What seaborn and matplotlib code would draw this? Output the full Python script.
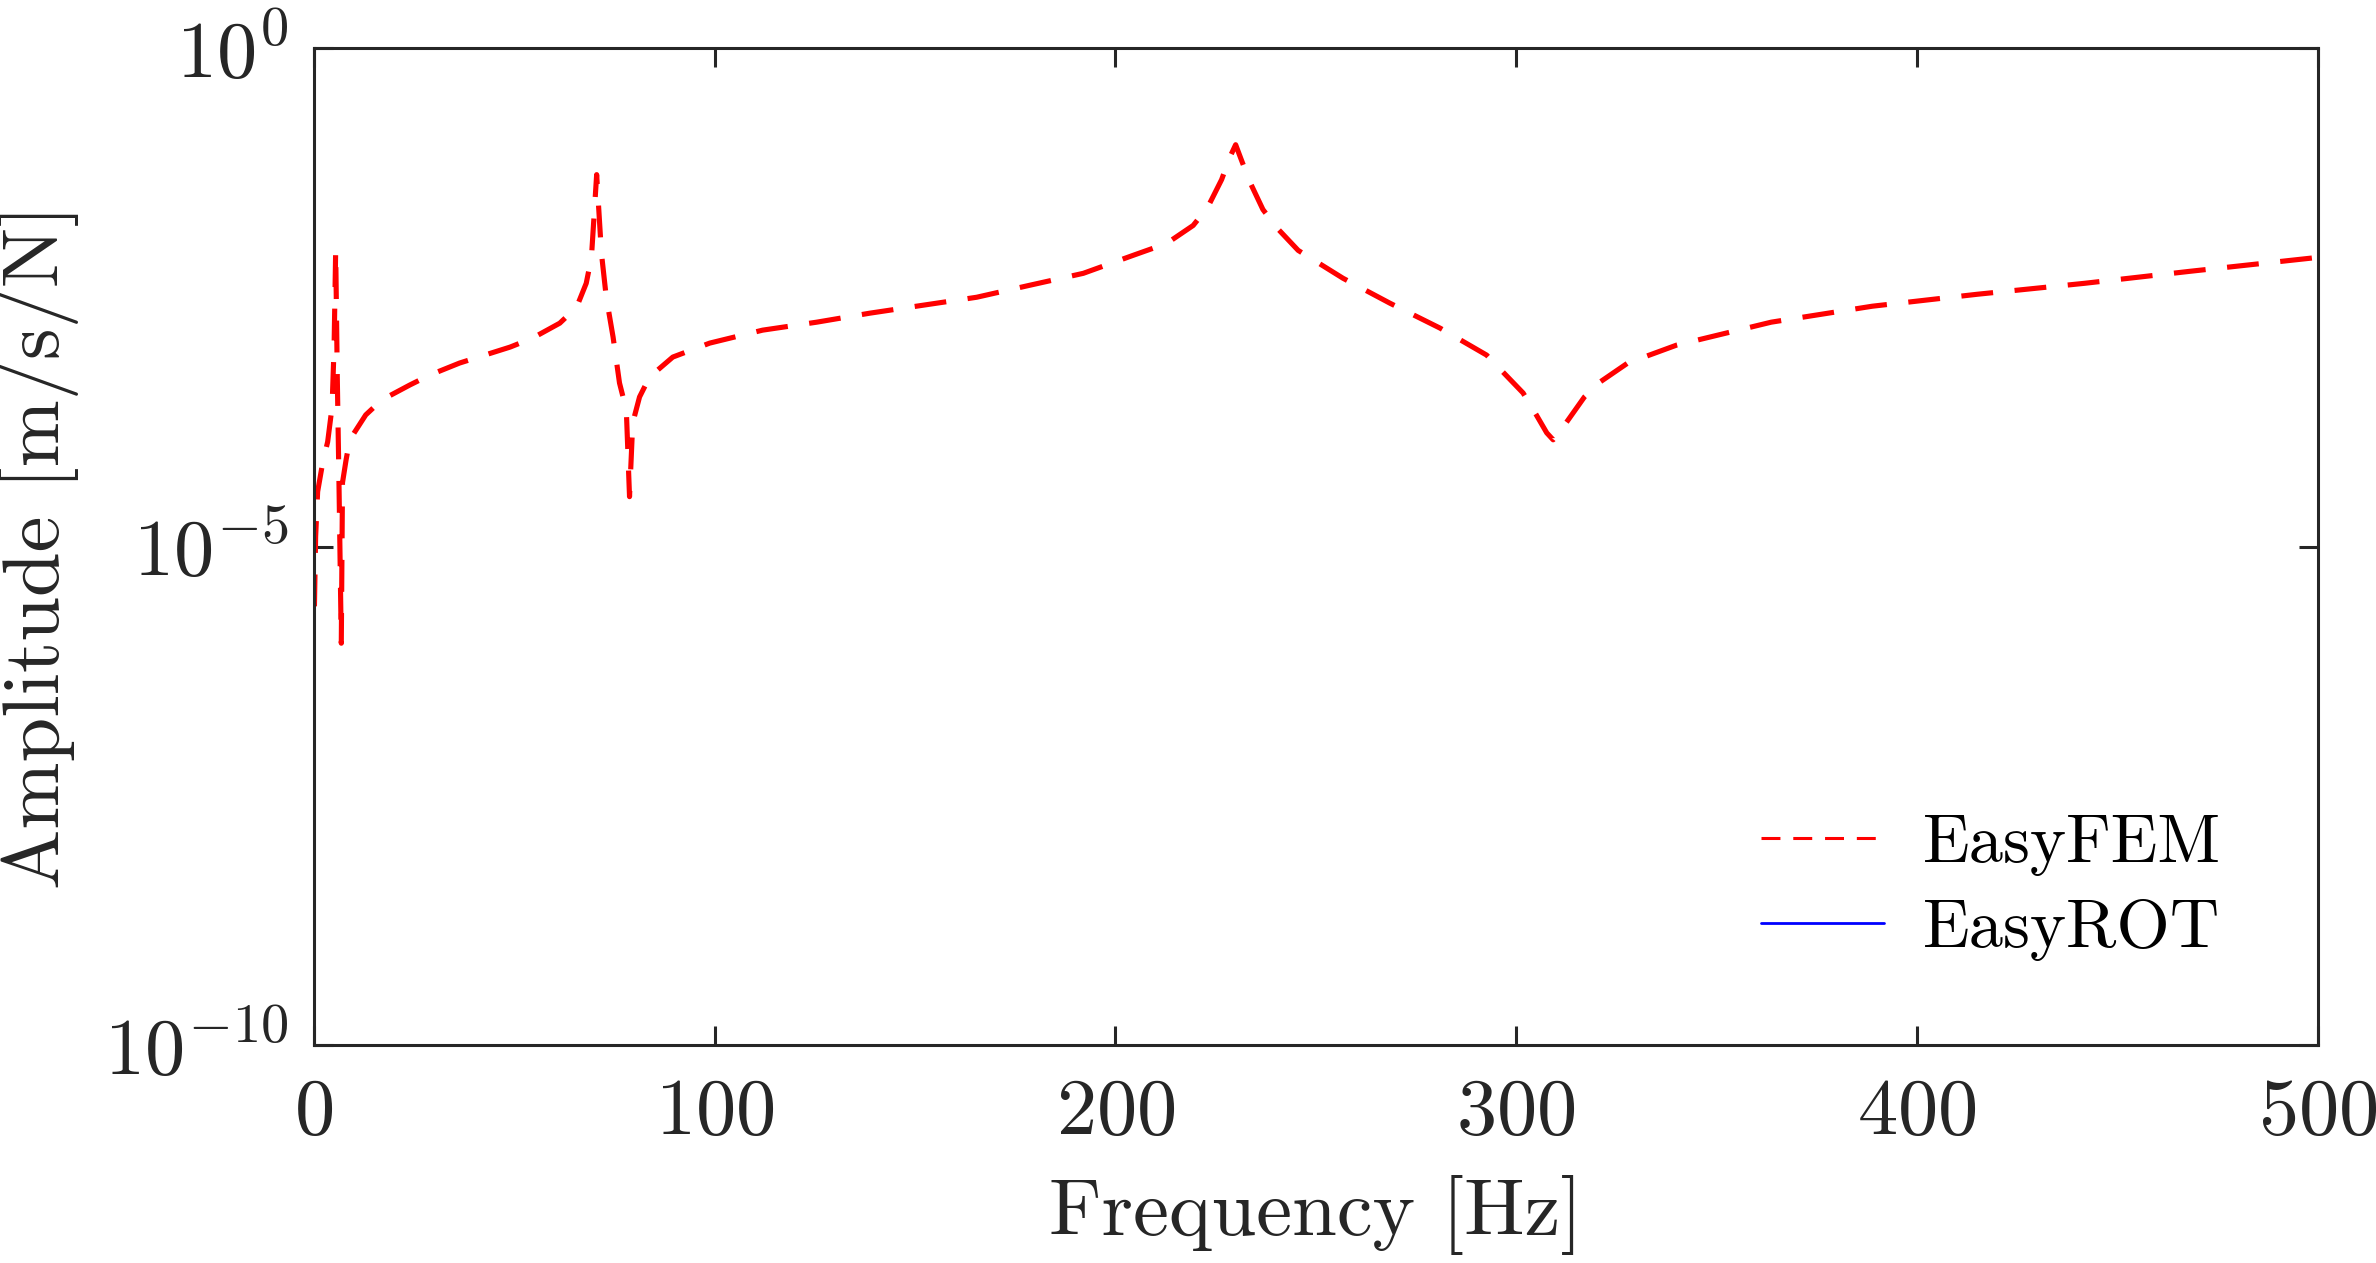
import numpy as np
import pandas as pd
import matplotlib
matplotlib.use("Agg")
import matplotlib.pyplot as plt
import seaborn as sns

# ---- data ----
freq_hz = [0.2, 0.5, 1.0, 2.3, 3.5, 4.6, 5.1, 5.5, 5.9, 6.3, 6.9, 7.2, 8.1, 9.0,
           13.0, 17.0, 24.0, 29.0, 36.4, 49.0, 54.6, 61.4, 65.6, 68.0, 69.3, 70.6,
           71.8, 73.0, 74.7, 76.3, 78.0, 78.8, 79.6, 81.3, 83.8, 89.6, 98.8, 112.0,
           125.5, 138.7, 152.0, 165.4, 178.6, 192.0, 204.4, 212.8, 219.4, 223.0,
           226.5, 228.5, 230.0, 231.4, 233.5, 236.8, 240.2, 245.6, 256.8, 268.5,
           281.0, 292.6, 301.7, 305.0, 307.6, 309.2, 310.8, 312.6, 317.0, 320.9,
           327.8, 340.0, 363.6, 388.8, 415.0, 441.8, 468.0, 500.0]
easyfem_log10 = [-5.6, -4.9, -4.45, -4.15, -3.95, -3.6, -3.0, -2.03, -3.3, -4.3, -5.97,
                 -4.36, -4.13, -3.93, -3.68, -3.53, -3.38, -3.28, -3.16, -3.0, -2.91,
                 -2.76, -2.6, -2.36, -2.1, -1.27, -2.06, -2.5, -2.9, -3.36, -3.63, -4.5,
                 -3.76, -3.5, -3.3, -3.1, -2.96, -2.83, -2.75, -2.66, -2.58, -2.5, -2.38,
                 -2.26, -2.08, -1.96, -1.78, -1.6, -1.32, -1.1, -0.97, -1.12, -1.34,
                 -1.62, -1.8, -2.03, -2.31, -2.56, -2.81, -3.08, -3.46, -3.68, -3.86,
                 -3.93, -3.85, -3.75, -3.5, -3.35, -3.16, -2.98, -2.75, -2.59, -2.47,
                 -2.36, -2.24, -2.10]
easyrot_freq = []   # EasyROT curve is not visible in the reference
easyrot_amp = []

series_labels = ["EasyFEM", "EasyROT"]
x_ticks = [0, 100, 200, 300, 400, 500]
y_ticks = [1e-10, 1e-5, 1e0]

df = pd.DataFrame({"freq": freq_hz, "amp": 10.0 ** np.array(easyfem_log10)})

# ---- style ----
sns.set_theme(style="ticks")
plt.rcParams.update({
    "font.family": "serif",
    "font.serif": ["cmr10"],
    "mathtext.fontset": "cm",
    "axes.formatter.use_mathtext": True,
    "axes.unicode_minus": False,
})

fs = 29
fs_leg = 24.7
dark = "#262626"

fig = plt.figure(figsize=(11.88, 6.315), dpi=200)
ax = fig.add_axes([0.132, 0.1726, 0.8436, 0.7894])

sns.lineplot(data=df, x="freq", y="amp", ax=ax, color="red", linewidth=1.85,
             label=series_labels[0], sort=False, estimator=None)
ax.lines[0].set_dashes((6.2, 4.2))
ax.plot(easyrot_freq, easyrot_amp, color="blue", linewidth=1.0, label=series_labels[1])

ax.set_yscale("log")
ax.set_xlim(0, 500)
ax.set_ylim(1e-10, 1e0)
ax.set_xticks(x_ticks)
ax.set_yticks(y_ticks)
ax.yaxis.set_minor_locator(matplotlib.ticker.NullLocator())

for s in ax.spines.values():
    s.set_visible(True)
    s.set_color(dark)
    s.set_linewidth(1.1)

ax.tick_params(axis="both", which="major", direction="in", length=7,
               width=1.1, color=dark, labelcolor=dark, labelsize=fs,
               top=True, right=True)
ax.tick_params(axis="x", pad=12)
ax.tick_params(axis="y", pad=9)

ax.set_xlabel("Frequency [Hz]", fontsize=fs, color=dark)
ax.set_ylabel("Amplitude [m/s/N]", fontsize=fs, color=dark)
ax.xaxis.set_label_coords(0.5, -0.13)
ax.yaxis.set_label_coords(-0.117, 0.5)

leg = ax.legend(loc="upper left", bbox_to_anchor=(0.722, 0.232), frameon=False,
                fontsize=fs_leg, handlelength=1.79, handletextpad=0.57,
                borderpad=0, borderaxespad=0, labelspacing=0.34)
leg.get_lines()[1].set_linewidth(1.0)
leg.get_lines()[0].set_linewidth(1.1)
for t in leg.get_texts():
    t.set_color("black")

fig.savefig("out.png", dpi=200, facecolor="white")
